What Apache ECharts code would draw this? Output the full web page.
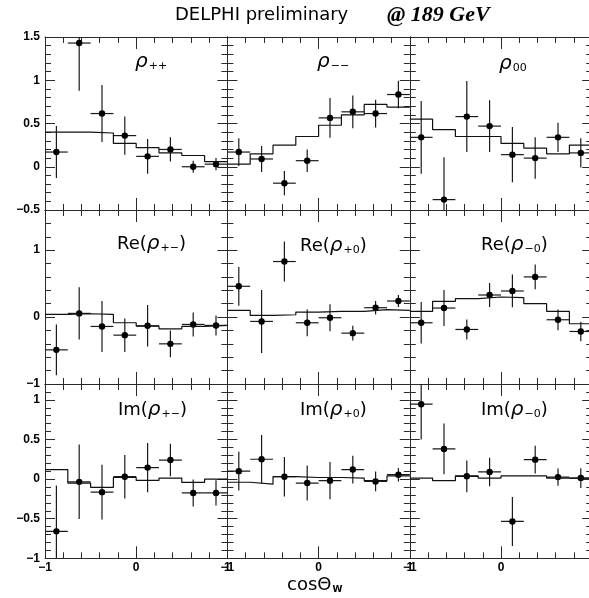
<!DOCTYPE html>
<html><head><meta charset="utf-8">
<script src="https://cdn.jsdelivr.net/npm/echarts@6/dist/echarts.min.js"></script>
<style>html,body{margin:0;padding:0;background:#fff}#c{width:589px;height:598px}</style>
</head><body><div id="c"></div>
<script>
// ---- data ----
const binCenters = [-0.875, -0.625, -0.375, -0.125, 0.125, 0.375, 0.625, 0.875];
const binHalfWidth = 0.125;

const rhoPP_val = [0.17, 1.43, 0.615, 0.36, 0.12, 0.20, 0.0, 0.03];
const rhoPP_err = [0.30, 0.55, 0.33, 0.22, 0.20, 0.14, 0.07, 0.07];
const rhoPP_mc  = [0.40, 0.40, 0.39, 0.27, 0.22, 0.16, 0.13, 0.06];

const rhoMM_val = [0.17, 0.09, -0.19, 0.07, 0.565, 0.635, 0.615, 0.835];
const rhoMM_err = [0.16, 0.15, 0.14, 0.13, 0.23, 0.19, 0.16, 0.16];
const rhoMM_mc  = [0.03, 0.15, 0.25, 0.35, 0.48, 0.60, 0.72, 0.69];

const rho00_val = [0.34, -0.38, 0.58, 0.47, 0.14, 0.10, 0.34, 0.16];
const rho00_err = [0.42, 0.49, 0.41, 0.30, 0.32, 0.24, 0.17, 0.17];
const rho00_mc  = [0.55, 0.43, 0.35, 0.35, 0.27, 0.215, 0.15, 0.25];

const reRhoPM_val = [-0.49, 0.055, -0.14, -0.27, -0.13, -0.40, -0.11, -0.125];
const reRhoPM_err = [0.38, 0.39, 0.38, 0.25, 0.31, 0.20, 0.18, 0.15];
const reRhoPM_mc  = [0.04, 0.05, 0.04, -0.085, -0.135, -0.175, -0.14, -0.125];

const reRhoP0_val = [0.46, -0.065, 0.83, -0.085, -0.01, -0.24, 0.14, 0.24];
const reRhoP0_err = [0.29, 0.47, 0.30, 0.20, 0.20, 0.11, 0.10, 0.09];
const reRhoP0_mc  = [0.10, 0.025, 0.035, 0.075, 0.085, 0.085, 0.11, 0.10];

const reRhoM0_val = [-0.085, 0.135, -0.185, 0.33, 0.39, 0.60, -0.04, -0.215];
const reRhoM0_err = [0.31, 0.27, 0.15, 0.18, 0.245, 0.185, 0.155, 0.145];
const reRhoM0_mc  = [0.085, 0.235, 0.275, 0.30, 0.29, 0.20, 0.085, -0.10];

const imRhoPM_val = [-0.66, -0.035, -0.165, 0.03, 0.145, 0.24, -0.175, -0.175];
const imRhoPM_err = [0.58, 0.47, 0.345, 0.275, 0.31, 0.205, 0.17, 0.16];
const imRhoPM_mc  = [0.12, -0.05, -0.105, 0.02, -0.017, 0.013, -0.042, 0.0];

const imRhoP0_val = [0.10, 0.25, 0.03, -0.05, -0.02, 0.12, -0.03, 0.055];
const imRhoP0_err = [0.245, 0.305, 0.25, 0.22, 0.235, 0.175, 0.125, 0.085];
const imRhoP0_mc  = [-0.04, -0.065, 0.03, 0.02, 0.02, 0.013, -0.02, 0.04];

const imRhoM0_val = [0.945, 0.38, 0.035, 0.09, -0.535, 0.245, 0.025, 0.013];
const imRhoM0_err = [0.445, 0.32, 0.20, 0.18, 0.31, 0.175, 0.11, 0.125];
const imRhoM0_mc  = [0.013, -0.02, 0.04, 0.013, 0.04, 0.04, 0.013, 0.013];

// panel labels: [prefix, subscript]
const panelPrefix = ['', '', '', 'Re(', 'Re(', 'Re(', 'Im(', 'Im(', 'Im('];
const panelSub    = ['++', '\u2212\u2212', '00', '+\u2212', '+0', '\u22120', '+\u2212', '+0', '\u22120'];

// y-axis per row
const rowMin = [-0.5, -1, -1];
const rowMax = [1.5, 1.6, 1.2];
const rowInterval = [0.5, 1, 0.5];

// ---- layout (not data) ----
const colLeft = [45, 227.4, 409.8];
const colW = 182.4;
const rowTop = [37, 210, 384];
const rowH = [173, 174, 174.3];
const labelPos = [[135, 51], [317, 51], [499, 53], [117, 233], [300, 235], [481, 234], [118, 399], [300, 399], [481, 399]];

const panels = [
  [rhoPP_val, rhoPP_err, rhoPP_mc], [rhoMM_val, rhoMM_err, rhoMM_mc], [rho00_val, rho00_err, rho00_mc],
  [reRhoPM_val, reRhoPM_err, reRhoPM_mc], [reRhoP0_val, reRhoP0_err, reRhoP0_mc], [reRhoM0_val, reRhoM0_err, reRhoM0_mc],
  [imRhoPM_val, imRhoPM_err, imRhoPM_mc], [imRhoP0_val, imRhoP0_err, imRhoP0_mc], [imRhoM0_val, imRhoM0_err, imRhoM0_mc]
];

const AX = '#2a2a2a';
const fmtNum = v => String(+v.toFixed(2)).replace('-', '\u2212');

function errRender(params, api) {
  const x = api.value(0), y = api.value(1), e = api.value(2);
  const cs = params.coordSys;
  const clampY = p => Math.max(cs.y, Math.min(cs.y + cs.height, p));
  const c = api.coord([x, y]);
  const l = api.coord([x - binHalfWidth, y]);
  const r = api.coord([x + binHalfWidth, y]);
  const t = api.coord([x, y + e]);
  const b = api.coord([x, y - e]);
  const st = {stroke: '#1a1a1a', lineWidth: 1.2, fill: null};
  return {type: 'group', children: [
    {type: 'line', shape: {x1: l[0], y1: l[1], x2: r[0], y2: r[1]}, style: st},
    {type: 'line', shape: {x1: t[0], y1: clampY(t[1]), x2: b[0], y2: clampY(b[1])}, style: st},
    {type: 'circle', shape: {cx: c[0], cy: c[1], r: 3.2}, style: {fill: '#000', stroke: null}}
  ]};
}

const grid = [], xAxis = [], yAxis = [], series = [], title = [];
for (let i = 0; i < 9; i++) {
  const r = Math.floor(i / 3), c = i % 3;
  grid.push({left: colLeft[c], width: colW, top: rowTop[r], height: rowH[r], containLabel: false, outerBoundsMode: 'none'});
  const xBase = {
    gridIndex: i, type: 'value', min: -1, max: 1, interval: 1,
    axisLine: {show: true, onZero: false, lineStyle: {color: AX, width: 1}},
    axisTick: {show: true, inside: true, length: 12, lineStyle: {color: AX, width: 1}},
    minorTick: {show: true, splitNumber: 5, length: 6, lineStyle: {color: AX, width: 1}},
    splitLine: {show: false}, minorSplitLine: {show: false}
  };
  xAxis.push(Object.assign({}, xBase, {position: 'bottom',
    axisLabel: {show: r === 2, margin: 3, color: '#000', fontSize: 12, fontWeight: 'bold', fontFamily: 'Liberation Sans',
      formatter: v => fmtNum(v)}}));
  xAxis.push(Object.assign({}, xBase, {position: 'top', axisLabel: {show: false}}));
  const yBase = {
    gridIndex: i, type: 'value', min: rowMin[r], max: rowMax[r], interval: rowInterval[r],
    axisLine: {show: true, onZero: false, lineStyle: {color: AX, width: 1}},
    axisTick: {show: true, inside: true, length: 10, lineStyle: {color: AX, width: 1}},
    minorTick: {show: true, splitNumber: 5, length: 6, lineStyle: {color: AX, width: 1}},
    splitLine: {show: false}, minorSplitLine: {show: false}
  };
  yAxis.push(Object.assign({}, yBase, {position: 'left',
    axisLabel: {show: c === 0, margin: 5, showMaxLabel: r === 0, color: '#000', fontSize: 12, fontWeight: 'bold', fontFamily: 'Liberation Sans',
      formatter: v => fmtNum(v)}}));
  yAxis.push(Object.assign({}, yBase, {position: 'right', axisLabel: {show: false}}));

  const [vals, errs, mc] = panels[i];
  const edges = binCenters.map(x => x - binHalfWidth).concat([1]);
  series.push({
    type: 'line', xAxisIndex: 2 * i, yAxisIndex: 2 * i, step: 'end', showSymbol: false, symbol: 'none',
    lineStyle: {color: '#111', width: 1.2}, clip: true, silent: true,
    data: edges.map((x, k) => [x, mc[Math.min(k, mc.length - 1)]])
  });
  series.push({
    type: 'custom', xAxisIndex: 2 * i, yAxisIndex: 2 * i, renderItem: errRender, clip: true, silent: true,
    data: binCenters.map((x, k) => [x, vals[k], errs[k]])
  });

  const pre = panelPrefix[i] ? '{m|' + panelPrefix[i] + '}' : '';
  const post = panelPrefix[i] ? '{m|)}' : '';
  title.push({
    text: pre + '{g|\u03c1}{s|' + panelSub[i] + '}' + post,
    left: labelPos[i][0], top: labelPos[i][1], padding: 0,
    textStyle: {fontWeight: 'normal', rich: {
      m: {fontFamily: 'DejaVu Sans', fontWeight: 'normal', fontSize: 18, color: '#000', lineHeight: 22},
      g: {fontFamily: 'DejaVu Sans', fontWeight: 'normal', fontStyle: 'italic', fontSize: 20, color: '#000', lineHeight: 22},
      s: {fontFamily: 'DejaVu Sans', fontWeight: 'normal', fontSize: 11, color: '#000', lineHeight: 22, padding: [9, 0, 0, 1]}
    }}
  });
}

title.push({text: 'DELPHI preliminary', left: 175, top: 6, padding: 0,
  textStyle: {fontFamily: 'DejaVu Sans', fontWeight: 'normal', fontSize: 18, color: '#000'}});
title.push({text: '@ 189 GeV', left: 387, top: 4, padding: 0,
  textStyle: {fontFamily: 'Liberation Serif', fontStyle: 'italic', fontWeight: 'bold', fontSize: 22, color: '#000'}});
title.push({text: '{m|cos\u0398}{s|W}', left: 287, top: 574, padding: 0,
  textStyle: {fontWeight: 'normal', rich: {
    m: {fontFamily: 'DejaVu Sans', fontWeight: 'normal', fontSize: 18, color: '#000', lineHeight: 22},
    s: {fontFamily: 'DejaVu Sans', fontWeight: 'bold', fontSize: 9, color: '#000', lineHeight: 22, padding: [9, 0, 0, 1]}
  }}});

const chart = echarts.init(document.getElementById('c'), null, {renderer: 'canvas'});
chart.setOption({animation: false, backgroundColor: '#fff', title, grid, xAxis, yAxis, series});
</script>
</body></html>
